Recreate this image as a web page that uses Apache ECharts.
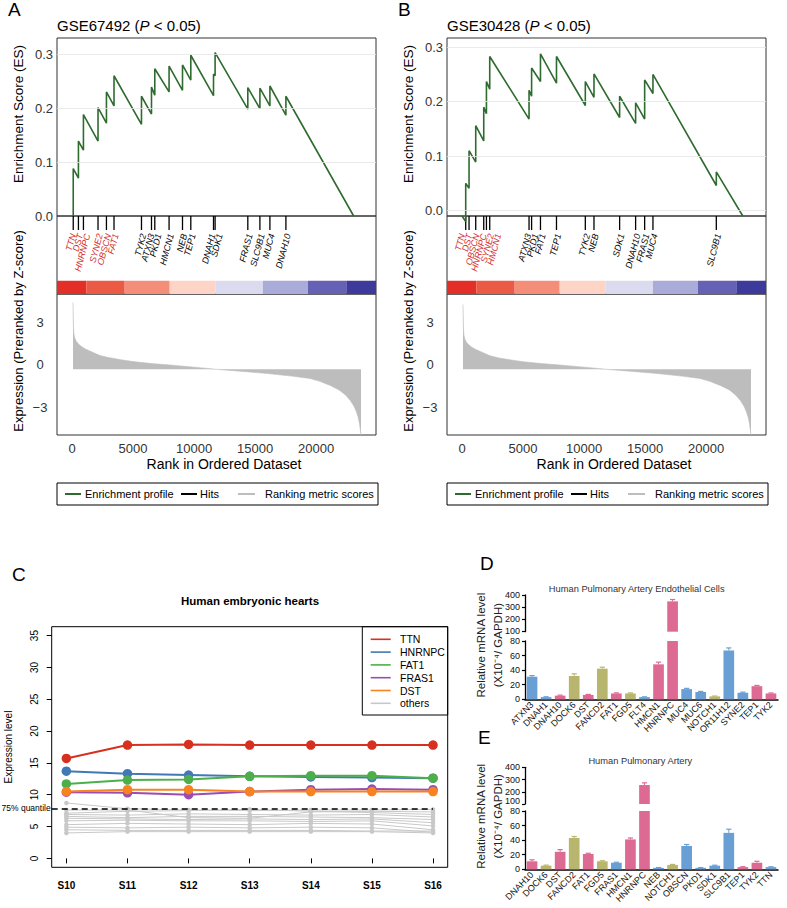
<!DOCTYPE html>
<html><head><meta charset="utf-8">
<script src="https://cdn.jsdelivr.net/npm/echarts@6/dist/echarts.min.js"></script>
<style>html,body{margin:0;padding:0;background:#fff}#c{width:787px;height:908px}</style>
</head><body><div id="c"></div>
<script>
// ---------------- DATA ----------------
// Panels A/B (GSEA)
const rankTicks = [0, 5000, 10000, 15000, 20000, 25000];
const esTicks = [0, 0.1, 0.2, 0.3];
const metricTicks = [-3, 0, 3];
const colorBarBreaks = [-1230, 1175, 4313, 8000, 11770, 15640, 19330, 22470, 24900];

const genesA = ['TTN','DST','HNRNPC','SYNE2','OBSCN','FAT1','TYK2','ATXN3','PKD1','HMCN1','NEB','TEP1','DNAH1','SDK1','FRAS1','SLC9B1','MUC4','DNAH10'];
const hitRankA = [100, 525, 935, 2130, 2820, 3440, 5690, 6510, 6780, 7950, 9050, 9730, 11590, 11720, 14400, 15390, 16210, 17520];
const esBeforeA = [0, 0.07, 0.122, 0.139, 0.172, 0.204, 0.17, 0.189, 0.224, 0.23, 0.233, 0.252, 0.223, 0.26, 0.198, 0.199, 0.204, 0.187];
const esAfterA = [0.088, 0.139, 0.188, 0.201, 0.23, 0.26, 0.222, 0.239, 0.273, 0.278, 0.28, 0.298, 0.263, 0.303, 0.238, 0.237, 0.241, 0.222];
const esStartA = [100, 0];
const esEndA = [23070, 0];
const leadingEdgeA = 6;
const metricRankA = [80, 110, 150, 220, 360, 550, 800, 1100, 1500, 2300, 3000, 4000, 5000, 6500, 8000, 10000, 11800, 14000, 16000, 18000, 19500, 20300, 21200, 21900, 22400, 22800, 23100, 23300, 23450, 23560, 23620, 23670];
const metricValA = [4.4, 2.8, 2.2, 1.9, 1.65, 1.45, 1.28, 1.12, 0.97, 0.66, 0.52, 0.37, 0.24, 0.1, 0.0, -0.15, -0.3, -0.45, -0.6, -0.78, -0.95, -1.15, -1.45, -1.77, -2.1, -2.5, -2.9, -3.3, -3.7, -4.2, -4.6, -4.95];

const genesB = ['TTN','DST','OBSCN','HNRNPC','SYNE2','HMCN1','ATXN3','PKD1','FAT1','TEP1','TYK2','NEB','SDK1','DNAH10','FRAS1','MUC4','SLC9B1'];
const hitRankB = [303, 576, 1123, 1779, 2000, 2270, 5490, 5700, 6426, 7738, 10100, 10810, 12910, 14220, 14960, 15640, 20830];
const esBeforeB = [-0.02, 0.041, 0.089, 0.128, 0.178, 0.223, 0.168, 0.21, 0.237, 0.234, 0.193, 0.208, 0.171, 0.16, 0.168, 0.215, 0.046];
const esAfterB = [0.05, 0.11, 0.156, 0.19, 0.237, 0.283, 0.221, 0.262, 0.288, 0.283, 0.237, 0.251, 0.21, 0.198, 0.24, 0.25, 0.071];
const esStartB = [0, -0.01];
const esEndB = [23000, -0.01];
const leadingEdgeB = 6;
const metricRankB = [80, 110, 150, 220, 360, 550, 800, 1100, 1500, 2300, 3000, 4000, 5000, 6500, 8000, 10000, 11800, 14000, 16000, 18000, 19500, 20300, 21200, 21900, 22400, 22800, 23100, 23300, 23450, 23560, 23620, 23670];
const metricValB = [4.25, 2.7, 2.15, 1.85, 1.6, 1.42, 1.25, 1.1, 0.95, 0.65, 0.5, 0.36, 0.23, 0.1, 0.0, -0.15, -0.3, -0.45, -0.6, -0.78, -0.95, -1.15, -1.45, -1.75, -2.1, -2.5, -2.9, -3.3, -3.7, -4.2, -4.6, -4.95];

// Panel C
const stages = ['S10','S11','S12','S13','S14','S15','S16'];
const cTicks = [0, 5, 10, 15, 20, 25, 30, 35];
const exprTTN = [15.7, 17.8, 17.9, 17.8, 17.8, 17.8, 17.8];
const exprHNRNPC = [13.7, 13.3, 13.1, 12.9, 12.8, 12.7, 12.6];
const exprFAT1 = [11.7, 12.3, 12.4, 12.9, 13.0, 13.0, 12.6];
const exprFRAS1 = [10.4, 10.3, 10.0, 10.5, 10.8, 10.9, 10.8];
const exprDST = [10.5, 10.8, 10.8, 10.5, 10.5, 10.5, 10.5];
const exprOthers = [
  [8.7, 7.8, 7.6, 7.5, 7.6, 7.6, 7.7],
  [7.6, 7.6, 6.4, 6.3, 7.3, 7.4, 7.3],
  [7.1, 7.4, 7.5, 7.7, 7.4, 7.2, 6.9],
  [6.9, 6.8, 7.0, 6.9, 6.8, 6.9, 6.5],
  [6.6, 6.4, 6.6, 6.6, 6.5, 6.4, 6.1],
  [6.3, 6.2, 6.1, 6.2, 6.1, 6.2, 5.6],
  [5.9, 6.0, 5.9, 5.9, 5.8, 5.9, 5.1],
  [5.3, 5.5, 5.4, 5.3, 5.5, 5.4, 4.5],
  [4.9, 4.8, 4.9, 4.8, 4.9, 4.8, 4.1],
  [4.5, 4.4, 4.4, 4.4, 4.4, 4.3, 4.3],
  [4.0, 4.2, 4.2, 4.2, 4.2, 4.2, 4.0]
];
const quantile75 = 7.86;

// Panels D/E
const genesD = ['ATXN3','DNAH1','DNAH10','DOCK6','DST','FANCD2','FAT1','FGD5','FLT4','HMCN1','HNRNPC','MUC4','MUC6','NOTCH1','OR11H12','SYNE2','TEP1','TYK2'];
const meanD = [31, 3, 5, 32, 6, 42, 8, 8, 3, 48, 348, 14, 10, 4, 67, 9, 18, 8];
const errD = [1.5, 0.5, 0.7, 3, 0.7, 2, 0.8, 0.8, 0.4, 3, 15, 1, 0.8, 0.5, 3.5, 0.8, 1, 0.7];
const groupD = [0, 0, 2, 1, 2, 1, 2, 1, 0, 2, 2, 0, 0, 1, 0, 0, 2, 2];

const genesE = ['DNAH10','DOCK6','DST','FANCD2','FAT1','FGD5','FRAS1','HMCN1','HNRNPC','NEB','NOTCH1','OBSCN','PKD1','SDK1','SLC9B1','TEP1','TYK2','TTN'];
const meanE = [11, 5, 24, 43, 21, 11, 9, 41, 255, 2, 6, 32, 2, 5, 50, 3, 9, 3];
const errE = [2, 0.7, 3, 2, 1, 0.8, 0.7, 2, 18, 0.4, 0.7, 2, 0.4, 0.6, 5, 0.6, 2, 0.5];
const groupE = [2, 1, 2, 1, 2, 1, 0, 2, 2, 0, 1, 0, 0, 0, 0, 2, 2, 0];

// ---------------- STYLE / LAYOUT ----------------
const FONT = 'Liberation Sans, Arial, Helvetica, sans-serif';
const RANK_MIN = -1230, RANK_MAX = 24900;
const METRIC_BASE = -0.3;
const colorBarShades = ['#e32f28', '#eb5a45', '#f48e79', '#fdd4c5', '#dadbef', '#aaabd9', '#6562b5', '#3e3a9c'];
const ES_GREEN = '#2e6b2e';
const LEAD_RED = '#d42b2b';
const barColors = ['#6a9fd5', '#b8b66e', '#dc6a92'];

const grid = [], xAxis = [], yAxis = [], series = [], graphic = [];

function txt(x, y, text, o) {
  o = o || {};
  graphic.push({
    type: 'text', x: x, y: y, rotation: o.rot || 0, silent: true, z: 10,
    style: {
      text: text, fill: o.fill || '#000',
      font: (o.style || 'normal') + ' ' + (o.weight || 'normal') + ' ' + (o.size || 12) + 'px ' + FONT,
      textAlign: o.align || 'left', textVerticalAlign: 'middle'
    }
  });
}
function hline(x1, y1, x2, y2, color, w, dash) {
  graphic.push({type: 'line', silent: true, z: 10, shape: {x1: x1, y1: y1, x2: x2, y2: y2},
    style: {stroke: color, lineWidth: w, lineDash: dash || null}});
}
function box(x, y, w, h) {
  graphic.push({type: 'rect', silent: true, z: 10, shape: {x: x, y: y, width: w, height: h},
    style: {fill: 'none', stroke: '#000', lineWidth: 1}});
}

function repel(xs, gap) {
  const pos = xs.slice();
  for (let it = 0; it < 200; it++) {
    let moved = false;
    for (let i = 1; i < pos.length; i++) {
      const d = pos[i] - pos[i - 1];
      if (d < gap - 1e-6) { const s = (gap - d) / 2; pos[i - 1] -= s; pos[i] += s; moved = true; }
    }
    if (!moved) break;
  }
  return pos;
}

function gsea(ox, P) {
  const L = 57 + ox, W = 319;
  const gi = grid.length;
  const gb = {show: true, borderColor: '#333', borderWidth: 1, backgroundColor: 'transparent', outerBoundsMode: 'none', containLabel: false};
  grid.push(Object.assign({left: L, top: 38, width: W, height: 178}, gb));
  grid.push(Object.assign({left: L, top: 216, width: W, height: 78}, gb));
  grid.push(Object.assign({left: L, top: 294, width: W, height: 141}, gb));
  for (let k = 0; k < 2; k++) xAxis.push({type: 'value', gridIndex: gi + k, min: RANK_MIN, max: RANK_MAX, show: false});
  xAxis.push({type: 'value', gridIndex: gi + 2, min: RANK_MIN, max: RANK_MAX,
    axisLine: {show: false}, axisTick: {show: false}, splitLine: {show: false},
    axisLabel: {customValues: rankTicks, formatter: v => String(v), fontSize: 13, color: '#333', margin: 7, fontFamily: FONT}});
  yAxis.push({type: 'value', gridIndex: gi, min: P.esMin, max: P.esMax,
    axisLine: {show: false}, axisTick: {show: false}, splitLine: {show: false},
    axisLabel: {customValues: esTicks, formatter: v => v.toFixed(1), fontSize: 13, color: '#333', margin: 4, fontFamily: FONT}});
  yAxis.push({type: 'value', gridIndex: gi + 1, min: 0, max: 1, show: false});
  yAxis.push({type: 'value', gridIndex: gi + 2, min: -4.92, max: 4.99,
    axisLine: {show: false}, axisTick: {show: false}, splitLine: {show: false},
    axisLabel: {customValues: metricTicks, formatter: v => (v < 0 ? '\u2212' + (-v) : String(v)),
      fontSize: 13, color: '#333', margin: 17, align: 'center', fontFamily: FONT}});

  // enrichment profile
  const esData = [P.start];
  P.ranks.forEach((r, i) => { esData.push([r, P.before[i]], [r, P.after[i]]); });
  esData.push(P.end);
  series.push({type: 'line', name: 'Enrichment profile', xAxisIndex: gi, yAxisIndex: gi, data: esData,
    symbol: 'none', clip: false, silent: true, z: 3, animation: false,
    lineStyle: {color: ES_GREEN, width: 1.6}, itemStyle: {color: ES_GREEN},
    markLine: {silent: true, symbol: 'none', animation: false, label: {show: false},
      lineStyle: {color: '#e4e4e4', width: 0.8, type: 'solid'},
      data: esTicks.filter(v => v > P.esMin + 1e-9).map(v => ({yAxis: v}))}});

  // colour bar
  series.push({type: 'custom', xAxisIndex: gi + 1, yAxisIndex: gi + 1, silent: true, animation: false,
    data: colorBarBreaks.slice(0, -1).map((b, i) => [b, colorBarBreaks[i + 1], i]),
    renderItem: (p, api) => {
      const a = api.coord([api.value(0), 0.17]), b = api.coord([api.value(1), 0]);
      return {type: 'rect', shape: {x: a[0], y: a[1], width: b[0] - a[0], height: b[1] - a[1]},
        style: {fill: colorBarShades[api.value(2)]}};
    }});
  // hits
  series.push({type: 'custom', name: 'Hits', xAxisIndex: gi + 1, yAxisIndex: gi + 1, silent: true, clip: false, animation: false,
    data: P.ranks.map(r => [r, 1]),
    renderItem: (p, api) => {
      const a = api.coord([api.value(0), 1]), b = api.coord([api.value(0), 0.82]);
      return {type: 'line', shape: {x1: a[0], y1: a[1], x2: b[0], y2: b[1]}, style: {stroke: '#000', lineWidth: 1.3}};
    }});
  // gene labels
  const gap = 7.2 * (RANK_MAX - RANK_MIN) / W;
  const lp = repel(P.ranks, gap);
  series.push({type: 'custom', xAxisIndex: gi + 1, yAxisIndex: gi + 1, silent: true, clip: false, animation: false,
    data: lp.map((x, i) => [x, 0.77, i]),
    renderItem: (p, api) => {
      const i = api.value(2);
      const c = api.coord([api.value(0), 0.77]);
      return {type: 'text', x: c[0] + 2, y: c[1], rotation: 75 * Math.PI / 180,
        style: {text: P.genes[i], fill: i < P.lead ? LEAD_RED : '#000',
          font: 'italic 9px ' + FONT, textAlign: 'right', textVerticalAlign: 'middle'}};
    }});
  // ranking metric
  series.push({type: 'line', name: 'Ranking metric scores', xAxisIndex: gi + 2, yAxisIndex: gi + 2,
    data: P.mRank.map((r, i) => [r, P.mVal[i]]), symbol: 'none', silent: true, animation: false,
    lineStyle: {width: 0.6, color: '#bdbdbd'}, itemStyle: {color: '#bdbdbd'},
    areaStyle: {color: '#bdbdbd', opacity: 1, origin: METRIC_BASE}});

  // texts
  graphic.push({type: 'text', x: L, y: 25, silent: true, z: 10, style: {
    text: '{n|' + P.id + ' (}{i|P}{n| < 0.05)}', textVerticalAlign: 'middle',
    rich: {n: {fontSize: 15, fontFamily: FONT, fill: '#000'}, i: {fontSize: 15, fontFamily: FONT, fontStyle: 'italic', fill: '#000'}}}});
  txt(ox + 8, 9, P.letter, {size: 19});
  txt(ox + 18, 114, 'Enrichment Score (ES)', {rot: Math.PI / 2, align: 'center', size: 13.5});
  txt(ox + 18, 331, 'Expression (Preranked by Z-score)', {rot: Math.PI / 2, align: 'center', size: 13});
  txt(ox + 224, 464, 'Rank in Ordered Dataset', {align: 'center', size: 14});
  // legend
  box(L, 483, 321, 22);
  hline(L + 8, 494, L + 24, 494, ES_GREEN, 2);
  txt(L + 28, 494, 'Enrichment profile', {size: 11});
  hline(L + 124, 494, L + 140, 494, '#000', 2);
  txt(L + 143, 494, 'Hits', {size: 11});
  hline(L + 181, 494, L + 198, 494, '#bdbdbd', 2);
  txt(L + 208, 494, 'Ranking metric scores', {size: 11});
}

gsea(0, {id: 'GSE67492', letter: 'A', esMin: 0, esMax: 0.33, genes: genesA, ranks: hitRankA, before: esBeforeA, after: esAfterA,
  start: esStartA, end: esEndA, lead: leadingEdgeA, mRank: metricRankA, mVal: metricValA});
gsea(390, {id: 'GSE30428', letter: 'B', esMin: -0.01, esMax: 0.317, genes: genesB, ranks: hitRankB, before: esBeforeB, after: esAfterB,
  start: esStartB, end: esEndB, lead: leadingEdgeB, mRank: metricRankB, mVal: metricValB});

// ---------------- Panel C ----------------
(function () {
  const gi = grid.length;
  const X_MIN = 0.76, X_MAX = 7.24;
  grid.push({left: 51.7, top: 626.7, width: 396, height: 240.6, show: true, borderColor: '#000', borderWidth: 1,
    backgroundColor: 'transparent', outerBoundsMode: 'none', containLabel: false});
  xAxis.push({type: 'value', gridIndex: gi, min: X_MIN, max: X_MAX, splitLine: {show: false},
    axisLine: {show: false},
    axisTick: {show: true, inside: false, length: 5, customValues: [1, 2, 3, 4, 5, 6, 7], lineStyle: {color: '#000', width: 1}},
    axisLabel: {customValues: [1, 2, 3, 4, 5, 6, 7], formatter: v => stages[Math.round(v) - 1],
      fontSize: 10, fontWeight: 'bold', color: '#000', margin: 13, fontFamily: FONT}});
  yAxis.push({type: 'value', gridIndex: gi, min: -1.4, max: 36.4, splitLine: {show: false},
    axisLine: {show: false},
    axisTick: {show: true, inside: false, length: 5, customValues: cTicks, lineStyle: {color: '#000', width: 1}},
    axisLabel: {show: false}});
  // rotated y tick labels, placed through the axis scale
  series.push({type: 'custom', xAxisIndex: gi, yAxisIndex: gi, silent: true, clip: false, animation: false,
    data: cTicks.map(v => [X_MIN, v]),
    renderItem: (p, api) => {
      const c = api.coord([api.value(0), api.value(1)]);
      return {type: 'text', x: c[0] - 12, y: c[1], rotation: Math.PI / 2,
        style: {text: String(api.value(1)), font: '10px ' + FONT, fill: '#000', textAlign: 'center', textVerticalAlign: 'bottom'}};
    }});
  const pts = arr => arr.map((v, i) => [i + 1, v]);
  exprOthers.forEach(arr => series.push({type: 'line', xAxisIndex: gi, yAxisIndex: gi, data: pts(arr), silent: true, animation: false,
    symbol: 'circle', symbolSize: 4.5, lineStyle: {color: '#c8c8c8', width: 1}, itemStyle: {color: '#c8c8c8'}}));
  const named = [['TTN', exprTTN, '#d7301f'], ['HNRNPC', exprHNRNPC, '#4178b6'], ['FAT1', exprFAT1, '#4daf4a'],
    ['FRAS1', exprFRAS1, '#9a4cb0'], ['DST', exprDST, '#f7821f']];
  named.forEach((s, k) => {
    const o = {type: 'line', name: s[0], xAxisIndex: gi, yAxisIndex: gi, data: pts(s[1]), silent: true, animation: false,
      symbol: 'circle', symbolSize: 9.5, lineStyle: {color: s[2], width: 2}, itemStyle: {color: s[2]}, z: 3 + k};
    if (k === 0) {
      o.markLine = {silent: true, symbol: 'none', animation: false,
        lineStyle: {color: '#000', width: 1.5, type: [6, 4]},
        label: {show: true, position: 'start', distance: 1, formatter: '75% quantile', fontSize: 8.5, color: '#000', fontFamily: FONT},
        data: [[{coord: [X_MIN, quantile75]}, {coord: [7, quantile75]}]]};
    }
    series.push(o);
  });
  txt(12, 574, 'C', {size: 19});
  txt(250, 601, 'Human embryonic hearts', {align: 'center', size: 11.5, weight: 'bold'});
  txt(8.5, 747, 'Expression level', {rot: Math.PI / 2, align: 'center', size: 10});
  // legend
  box(362.3, 626.7, 85.4, 88.3);
  const legItems = named.map(s => [s[0], s[2]]).concat([['others', '#c8c8c8']]);
  legItems.forEach((it, i) => {
    const y = 639.3 + i * 12.8;
    hline(370.7, y, 390.7, y, it[1], 1.6);
    txt(400, y, it[0], {size: 10.5});
  });
})();

// ---------------- Panels D/E ----------------
function barPanel(P) {
  const gi = grid.length;
  const gb = {left: 525, width: 253, outerBoundsMode: 'none', containLabel: false};
  grid.push(Object.assign({top: P.uTop, height: P.uBot - P.uTop}, gb));
  grid.push(Object.assign({top: P.lTop, height: P.lBot - P.lTop}, gb));
  const yBase = {axisLine: {show: true, lineStyle: {color: '#000', width: 1.3}},
    axisTick: {show: true, inside: false, length: 3, lineStyle: {color: '#000', width: 1.2}},
    splitLine: {show: false}};
  const lab = {fontSize: 9, color: '#111', margin: 5, fontFamily: FONT};
  xAxis.push({type: 'category', gridIndex: gi, data: P.genes, show: false});
  xAxis.push({type: 'category', gridIndex: gi + 1, data: P.genes,
    axisLine: {show: true, lineStyle: {color: '#000', width: 1.5}}, axisTick: {show: false},
    axisLabel: {interval: 0, rotate: 45, fontSize: 9, color: '#111', margin: 4, fontFamily: FONT}});
  yAxis.push(Object.assign({type: 'value', gridIndex: gi, min: 100, max: 400, interval: 100,
    axisLabel: Object.assign({formatter: v => (v === 100 ? '{u|100}' : String(v)),
      rich: {u: {fontSize: 9, fontFamily: FONT, color: '#111', padding: [0, 0, P.lift, 0]}}}, lab)}, yBase));
  yAxis.push(Object.assign({type: 'value', gridIndex: gi + 1, min: 0, max: 80, interval: 20, axisLabel: lab}, yBase));
  const colorOf = i => barColors[P.group[i]];
  [[gi, 100, 400], [gi + 1, 0, 80]].forEach(g => {
    series.push({type: 'bar', xAxisIndex: g[0], yAxisIndex: g[0], barWidth: '76%', silent: true, animation: false,
      data: P.mean.map(v => (g[1] === 100 ? (v >= 100 ? v : '-') : v)),
      itemStyle: {color: p => colorOf(p.dataIndex)}});
    series.push({type: 'custom', xAxisIndex: g[0], yAxisIndex: g[0], silent: true, animation: false,
      data: P.mean.map((v, i) => [i, v, v + P.err[i]]),
      renderItem: (p, api) => {
        const i = api.value(0), v = api.value(1), t = api.value(2);
        if (v < g[1] || t > g[2]) return null;
        const a = api.coord([i, v]), b = api.coord([i, t]);
        const c = colorOf(i);
        return {type: 'group', children: [
          {type: 'line', shape: {x1: b[0], y1: a[1], x2: b[0], y2: b[1]}, style: {stroke: c, lineWidth: 1}},
          {type: 'line', shape: {x1: b[0] - 2.6, y1: b[1], x2: b[0] + 2.6, y2: b[1]}, style: {stroke: c, lineWidth: 1.2}}
        ]};
      }});
  });
  txt(P.letterX, P.letterY, P.letter, {size: 19});
  txt(P.titleX, P.titleY, P.title, {align: 'center', size: 9.3, fill: '#333'});
  const cy = (P.uTop + P.lBot) / 2 - 2;
  txt(480.7, cy, 'Relative mRNA level', {rot: Math.PI / 2, align: 'center', size: 11.5, fill: '#222'});
  txt(498.3, cy, '(X10\u207B\u2074/ GAPDH)', {rot: Math.PI / 2, align: 'center', size: 11.5, fill: '#222'});
}
barPanel({letter: 'D', letterX: 480, letterY: 563, title: 'Human Pulmonary Artery Endothelial Cells', titleX: 636.7, titleY: 588.5,
  uTop: 595, uBot: 631.7, lTop: 641, lBot: 699.3, lift: 2, genes: genesD, mean: meanD, err: errD, group: groupD});
barPanel({letter: 'E', letterX: 478, letterY: 737, title: 'Human Pulmonary Artery', titleX: 640.3, titleY: 760.7,
  uTop: 767.3, uBot: 804, lTop: 811, lBot: 869.3, lift: 6, genes: genesE, mean: meanE, err: errE, group: groupE});

const chart = echarts.init(document.getElementById('c'), null, {renderer: 'svg', width: 787, height: 908});
chart.setOption({
  animation: false,
  backgroundColor: '#fff',
  textStyle: {fontFamily: FONT},
  grid: grid, xAxis: xAxis, yAxis: yAxis, series: series, graphic: graphic
});
</script></body></html>
